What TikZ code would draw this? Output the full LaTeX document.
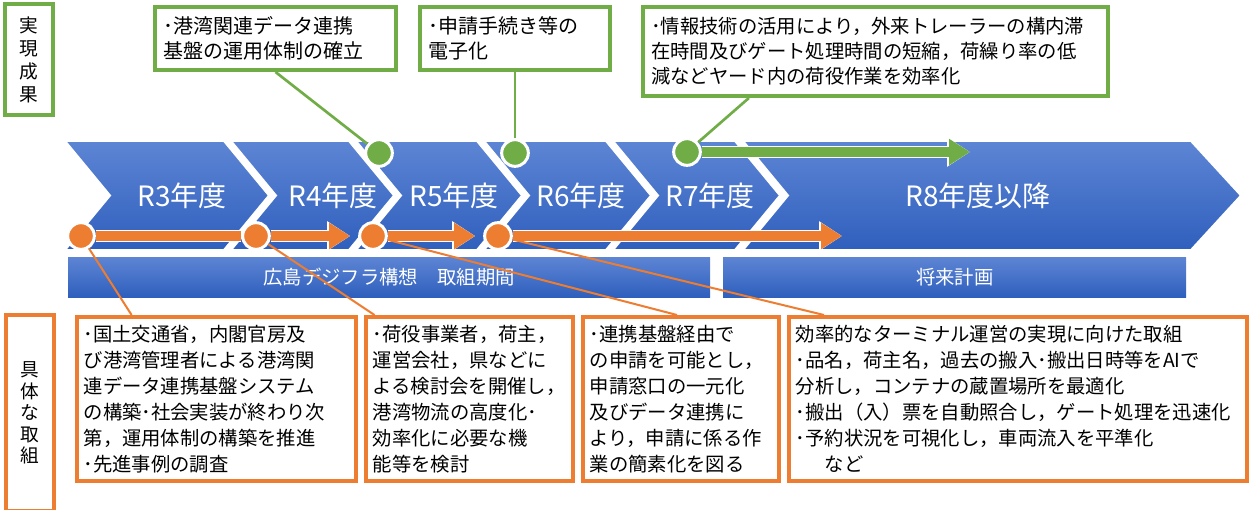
\documentclass[tikz,border=0pt]{standalone}
\usepackage{fontspec}
\setmainfont{Noto Sans CJK JP}
\usepackage{xcolor}
\usetikzlibrary{positioning,calc,arrows.meta}
\definecolor{greenC}{RGB}{112,173,71}
\definecolor{orangeC}{RGB}{237,125,49}
\definecolor{chevtop}{RGB}{93,133,212}
\definecolor{chevbot}{RGB}{47,95,189}

\begin{document}
\begin{tikzpicture}[
    x=0.75pt, y=-0.75pt,
    chev/.style={draw=white, line width=1.5pt, top color=chevtop, bottom color=chevbot},
    yearlbl/.style={text=white, inner sep=0pt, font=\fontsize{21pt}{24pt}\selectfont},
    period/.style={rectangle, top color=chevtop, bottom color=chevbot, minimum height=30pt, inner sep=0pt, text=white, font=\fontsize{14.5pt}{17pt}\selectfont},
    sidetag/.style={rectangle, draw, line width=3pt, fill=white, align=center, inner sep=0pt, minimum width=36pt},
    goal/.style={rectangle, draw=greenC, line width=3pt, fill=white, align=left, inner xsep=6pt, font=\fontsize{15pt}{18.75pt}\selectfont},
    task/.style={rectangle, draw=orangeC, line width=3pt, fill=white, align=left, inner xsep=5pt, minimum height=123pt, font=\fontsize{14.5pt}{19.5pt}\selectfont},
    dot/.style={circle, draw=white, line width=2.25pt, minimum size=20pt, inner sep=0pt},
    link/.style={line width=1.5pt},
    flow/.style={draw=#1, line width=7.5pt, preaction={draw=white, line width=9.5pt}},
    flowhead/.style={draw=#1, line width=7.5pt, -{Triangle[length=15.75pt,width=18.75pt]},
        preaction={draw=white, line width=9.5pt, -{Triangle[length=17.25pt,width=21pt]}}}
]
    \useasboundingbox (0,0) rectangle (1254,510);

    \path[chev] (65,141) -- (224,141) -- (269,195.5) -- (224,250) -- (65,250) -- (110,195.5) -- cycle;
    \path[chev] (231,141) -- (349,141) -- (394,195.5) -- (349,250) -- (231,250) -- (276,195.5) -- cycle;
    \path[chev] (356,141) -- (477,141) -- (522,195.5) -- (477,250) -- (356,250) -- (401,195.5) -- cycle;
    \path[chev] (484,141) -- (606,141) -- (651,195.5) -- (606,250) -- (484,250) -- (529,195.5) -- cycle;
    \path[chev] (613,141) -- (735,141) -- (780,195.5) -- (735,250) -- (613,250) -- (658,195.5) -- cycle;
    \path[chev] (743,141) -- (1191,141) -- (1241,195.5) -- (1191,250) -- (743,250) -- (788,195.5) -- cycle;

    \node[yearlbl] (y3) at (182,196) {R3年度};
    \node[yearlbl] (y4) at (333,196) {R4年度};
    \node[yearlbl] (y5) at (454,196) {R5年度};
    \node[yearlbl] (y6) at (581,196) {R6年度};
    \node[yearlbl] (y7) at (710,196) {R7年度};
    \node[yearlbl] (y8) at (978,196) {R8年度以降};

    \node[period, minimum width=481.5pt] (bar1) at (389,277) {広島デジフラ構想　取組期間};
    \node[period, minimum width=347.25pt, right=9.5pt of bar1] (bar2) {将来計画};

    \node[dot, fill=orangeC] (o1) at (81,236) {};
    \node[dot, fill=orangeC] (o2) at (256,236) {};
    \node[dot, fill=orangeC] (o3) at (373,236) {};
    \node[dot, fill=orangeC] (o4) at (498,236) {};
    \node[dot, fill=greenC] (g1) at (379,153) {};
    \node[dot, fill=greenC] (g2) at (515,153) {};
    \node[dot, fill=greenC] (g3) at (687,152) {};
    \coordinate (e4) at (842,236);
    \coordinate (e5) at (970,152);

    \draw[flow=orangeC] (o1) -- (o2);
    \draw[flowhead=orangeC, shorten >=6pt] (o2) -- (o3);
    \draw[flowhead=orangeC, shorten >=6pt] (o3) -- (o4);
    \draw[flowhead=orangeC] (o4) -- (e4);
    \draw[flowhead=greenC] (g3) -- (e5);

    \node[sidetag, draw=greenC, minimum height=83.25pt, font=\fontsize{14pt}{17.25pt}\selectfont] (res) at (29,59.5) {実\\現\\成\\果};
    \node[sidetag, draw=orangeC, minimum height=147pt, font=\fontsize{14pt}{16.1pt}\selectfont] (act) at (30,413) {具\\体\\な\\取\\組};

    \node[goal, minimum width=180.75pt, minimum height=47.25pt, text width=168.75pt] (a1) at (275.5,38.5) {･港湾関連データ連携\\基盤の運用体制の確立};
    \node[goal, minimum width=142.5pt, minimum height=47.25pt, text width=130.5pt] (a2) at (515,38.5) {･申請手続き等の\\電子化};
    \node[goal, minimum width=348.75pt, minimum height=66.75pt, text width=336.75pt, font=\fontsize{14.5pt}{18.75pt}\selectfont] (a3) at (875.5,51.5) {･情報技術の活用により，外来トレーラーの構内滞\\在時間及びゲート処理時間の短縮，荷繰り率の低\\減などヤード内の荷役作業を効率化};

    \node[task, minimum width=209.25pt, text width=199.25pt] (b1) at (216.5,399) {･国土交通省，内閣官房及\\び港湾管理者による港湾関\\連データ連携基盤システム\\の構築･社会実装が終わり次\\第，運用体制の構築を推進\\･先進事例の調査};
    \node[task, minimum width=155.25pt, text width=145.25pt, right=4.5pt of b1] (b2) {･荷役事業者，荷主，\\運営会社，県などに\\よる検討会を開催し，\\港湾物流の高度化･\\効率化に必要な機\\能等を検討};
    \node[task, minimum width=147pt, text width=137pt, right=4.5pt of b2] (b3) {･連携基盤経由で\\の申請を可能とし，\\申請窓口の一元化\\及びデータ連携に\\より，申請に係る作\\業の簡素化を図る};
    \node[task, minimum width=343.5pt, text width=333.5pt, right=4.5pt of b3] (b4) {効率的なターミナル運営の実現に向けた取組\\･品名，荷主名，過去の搬入･搬出日時等をAIで\\分析し，コンテナの蔵置場所を最適化\\･搬出（入）票を自動照合し，ゲート処理を迅速化\\･予約状況を可視化し，車両流入を平準化\\\hspace*{1.5em}など};

    \draw[link, orangeC] (o1) -- ($(b1.north west)!0.2!(b1.north east)$);
    \draw[link, orangeC] (o2) -- ($(b2.north west)!0.05!(b2.north east)$);
    \draw[link, orangeC] (o3) -- ($(b3.north west)!0.48!(b3.north east)$);
    \draw[link, orangeC] (o4) -- ($(b4.north west)!0.08!(b4.north east)$);

    \draw[link, greenC, line width=2pt] (a1.south) -- (g1);
    \draw[link, greenC, line width=2pt] (a2) -- (g2);
    \draw[link, greenC, line width=2pt] ($(a3.south west)!0.23!(a3.south east)$) -- (g3);
\end{tikzpicture}
\end{document}
